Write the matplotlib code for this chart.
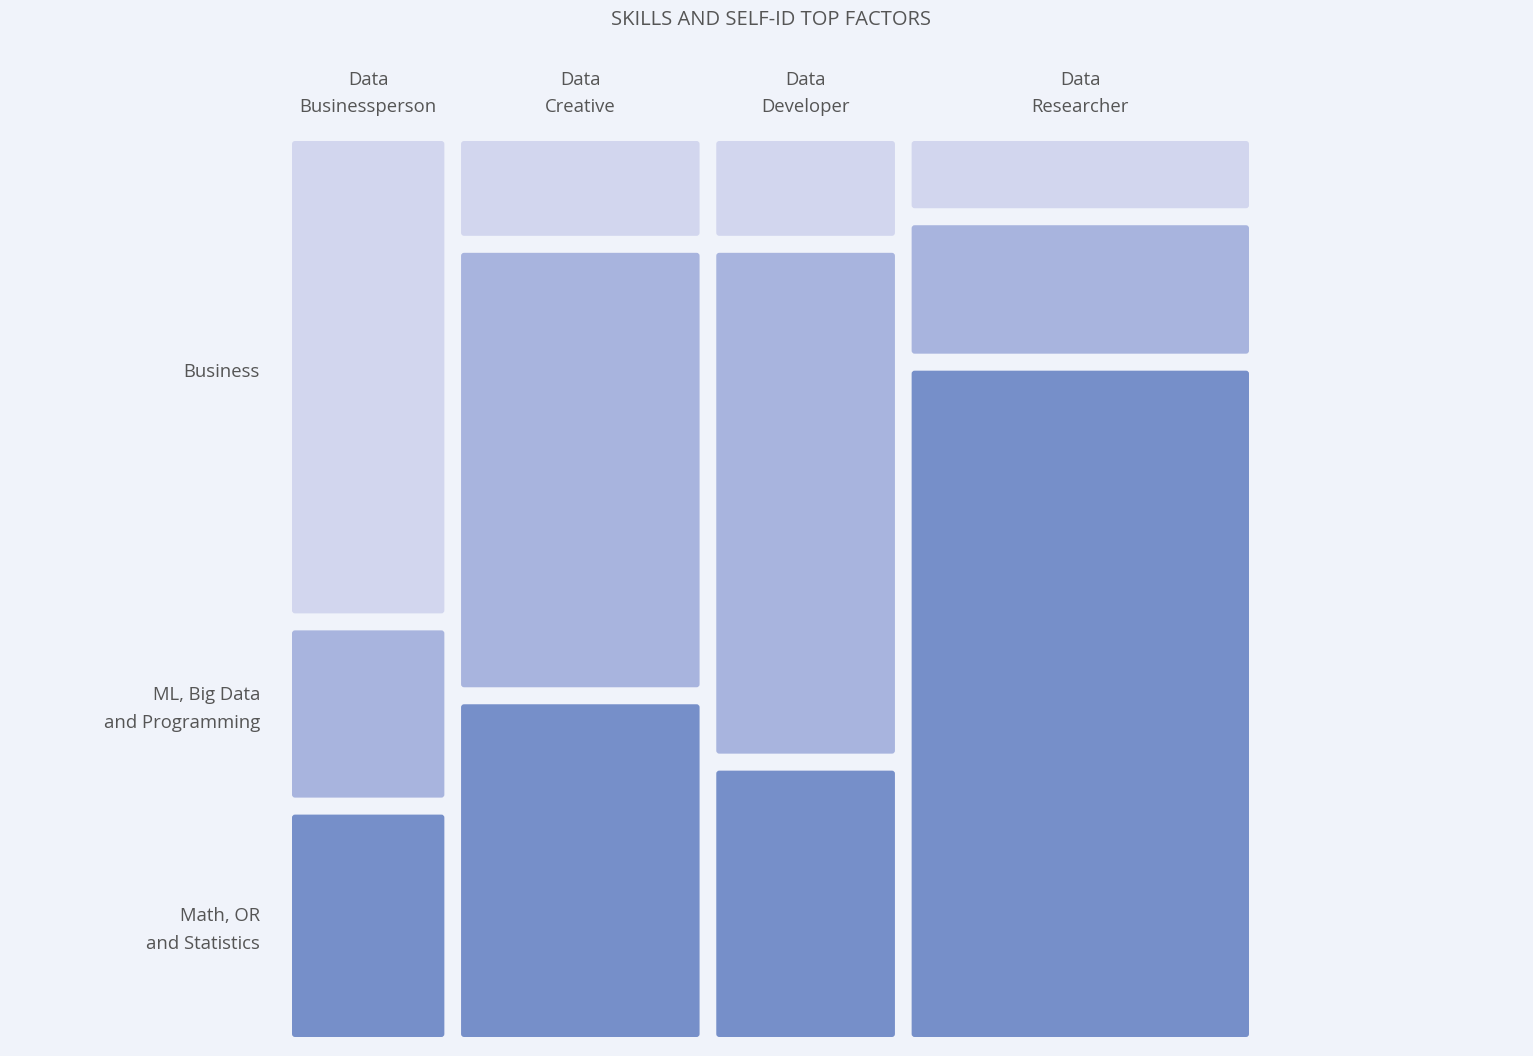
import matplotlib
matplotlib.use("Agg")
import matplotlib.pyplot as plt
from matplotlib.patches import FancyBboxPatch

plt.rcParams['font.family'] = ['Open Sans', 'DejaVu Sans']

title = "SKILLS AND SELF-ID TOP FACTORS"
columns = ["Data\nBusinessperson", "Data\nCreative", "Data\nDeveloper", "Data\nResearcher"]
column_share = [16.8, 26.3, 19.7, 37.2]
rows = ["Business", "ML, Big Data\nand Programming", "Math, OR\nand Statistics"]
business = [54.8, 11.0, 11.0, 7.8]
ml_bigdata = [19.4, 50.4, 58.1, 14.9]
math_stats = [25.8, 38.6, 30.9, 77.3]
row_colors = ["#D2D6EE", "#A8B4DE", "#768FC9"]

BG = "#F0F3FA"
TXT = "#555555"
W, H = 1533, 1056
fig = plt.figure(figsize=(W / 100, H / 100), dpi=100, facecolor=BG)

# plot area in pixels
x0, x1 = 292, 1249
y_top, y_bot = 141, 1037
ax = fig.add_axes([x0 / W, 1 - y_bot / H, (x1 - x0) / W, (y_bot - y_top) / H])
ax.set_facecolor(BG)
tw, th = x1 - x0, y_bot - y_top
ax.set_xlim(0, tw)
ax.set_ylim(0, th)
ax.axis("off")

gap_x = 16.7
gap_y = 17
usable_w = tw - gap_x * (len(columns) - 1)
usable_h = th - gap_y * (len(rows) - 1)
tot = sum(column_share)

series = [business, ml_bigdata, math_stats]
x = 0
first_centers = []
for ci, col in enumerate(columns):
    w = column_share[ci] / tot * usable_w
    coltot = sum(s[ci] for s in series)
    ytop = th
    for ri in range(len(rows)):
        h = series[ri][ci] / coltot * usable_h
        yb = ytop - h
        p = FancyBboxPatch((x, yb), w, h, boxstyle="round,pad=0,rounding_size=3",
                           facecolor=row_colors[ri], edgecolor="none")
        ax.add_patch(p)
        if ci == 0:
            first_centers.append(yb + h / 2)
        ytop = yb - gap_y
    ax.text(x + w / 2, th + 47.5, col, ha="center", va="center", fontsize=13.3,
            color=TXT, linespacing=1.7, clip_on=False)
    x += w + gap_x

label_shift = [5, 5, -4]
for ri, r in enumerate(rows):
    ax.text(-32, first_centers[ri] + label_shift[ri], r, ha="right", va="center",
            fontsize=13.3, color=TXT, linespacing=1.7, clip_on=False)

fig.text(771 / W, 1 - 20 / H, title, ha="center", va="center", fontsize=14.5, color=TXT)

fig.savefig("out.png", dpi=100, facecolor=BG)
